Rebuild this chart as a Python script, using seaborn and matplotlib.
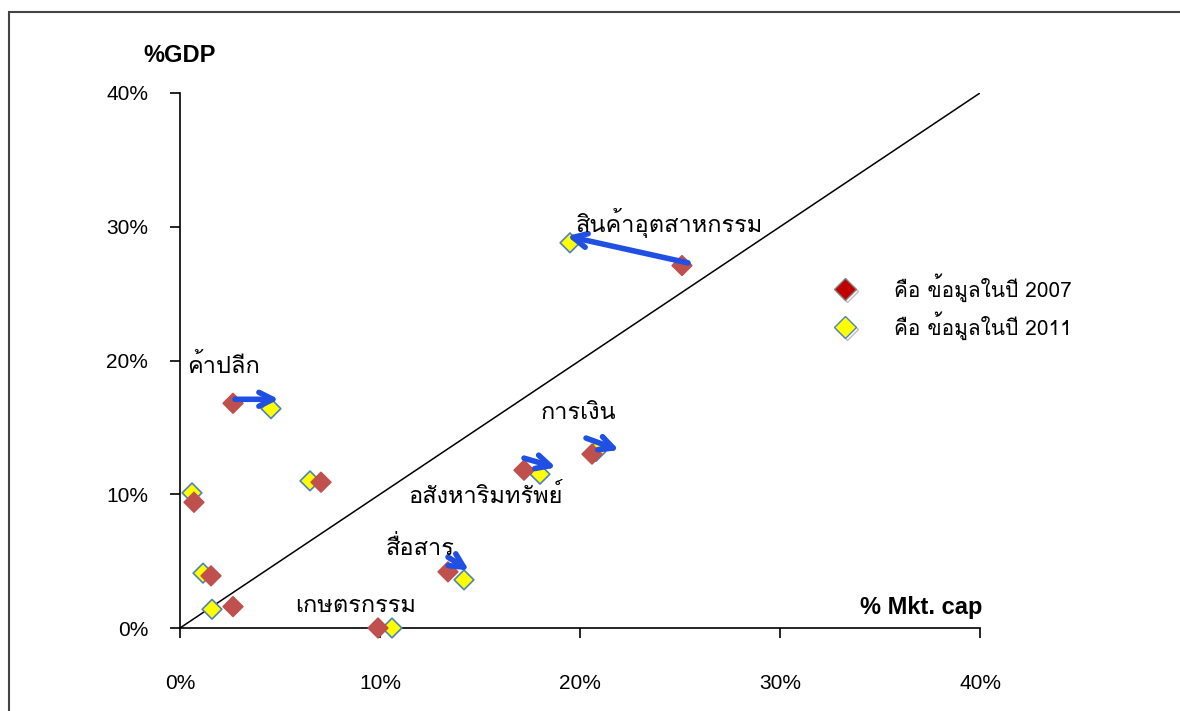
import numpy as np
import pandas as pd
import seaborn as sns
import matplotlib.pyplot as plt
from matplotlib import font_manager
from matplotlib.ft2font import FT2Font
from matplotlib.lines import Line2D
from matplotlib.patches import Rectangle
import matplotlib.patheffects as pe

# --- data ---
mkt_2007 = [2.65, 0.7, 7.05, 1.55, 2.65, 9.9, 13.4, 17.2, 20.6, 25.1]
gdp_2007 = [16.8, 9.4, 10.9, 3.9, 1.6, 0.0, 4.2, 11.8, 13.0, 27.1]
mkt_2011 = [4.55, 0.6, 6.5, 1.15, 1.6, 10.6, 14.2, 18.0, 20.8, 19.5]
gdp_2011 = [16.4, 10.1, 11.0, 4.1, 1.4, 0.0, 3.6, 11.5, 13.2, 28.8]

sector_names = ['สินค้าอุตสาหกรรม', 'ค้าปลีก', 'การเงิน', 'อสังหาริมทรัพย์', 'สื่อสาร', 'เกษตรกรรม']
sector_x = [19.8, 0.35, 18.05, 11.4, 10.3, 5.75]
sector_y = [30.3, 19.6, 16.1, 9.9, 6.0, 1.7]

# arrows: start -> end (data units)
arrow_x0 = [2.75, 13.4, 17.2, 20.3, 25.4]
arrow_y0 = [17.1, 5.3, 12.7, 14.2, 27.3]
arrow_x1 = [4.95, 14.45, 18.8, 21.95, 19.35]
arrow_y1 = [17.1, 4.3, 12.0, 13.3, 29.3]

ticks = [0, 10, 20, 30, 40]
tick_labels = ['0%', '10%', '20%', '30%', '40%']
legend_labels = ['คือ ข้อมูลในปี 2007', 'คือ ข้อมูลในปี 2011']

df = pd.DataFrame({
    'mkt': mkt_2011 + mkt_2007,
    'gdp': gdp_2011 + gdp_2007,
    'year': ['2011'] * len(mkt_2011) + ['2007'] * len(mkt_2007),
})


# find an installed font that can draw Thai
def thai_family():
    for f in font_manager.fontManager.ttflist:
        try:
            if 0x0E01 in FT2Font(f.fname).get_charmap():
                return f.name
        except Exception:
            pass
    return 'DejaVu Sans'


sns.set_style('ticks')
thai = thai_family()
plt.rcParams['font.family'] = ['Liberation Sans', thai, 'DejaVu Sans']
plt.rcParams['text.color'] = 'black'
plt.rcParams['xtick.color'] = 'black'
plt.rcParams['ytick.color'] = 'black'
thai_fam = [thai, 'Liberation Sans', 'DejaVu Sans']

fig = plt.figure(figsize=(11.8, 7.11), dpi=100)
ax = fig.add_axes([180 / 1180, 1 - 628 / 711, 800 / 1180, 535 / 711])

# outer frame
fig.patches.append(Rectangle((9 / 1180, -0.2), 1.2, 1.2 - 12 / 711, transform=fig.transFigure,
                             fill=False, edgecolor='#444444', lw=1.5))

# 45 degree line
ax.plot([0, 40], [0, 40], color='black', lw=1.1, zorder=1)

sns.scatterplot(data=df, x='mkt', y='gdp', hue='year', style='year',
                palette={'2011': '#FFFF00', '2007': '#C0504D'},
                markers={'2011': 'D', '2007': 'D'}, s=100, legend=False,
                ax=ax, zorder=3, clip_on=False)
# edge colours per series
coll = ax.collections[0]
coll.set_edgecolor(['#4F81BD'] * len(mkt_2011) + ['#C0504D'] * len(mkt_2007))
coll.set_linewidth(1.2)

for x0, y0, x1, y1 in zip(arrow_x0, arrow_y0, arrow_x1, arrow_y1):
    ax.annotate('', xy=(x1, y1), xytext=(x0, y0),
                arrowprops=dict(arrowstyle='->', color='#1F4FE3', lw=4,
                                mutation_scale=25, shrinkA=0, shrinkB=0),
                zorder=4)

for name, x, y in zip(sector_names, sector_x, sector_y):
    ax.text(x, y, name, fontsize=17, family=thai_fam, ha='left', va='center', zorder=5)

ax.set_xlim(0, 40)
ax.set_ylim(0, 40)
ax.set_xticks(ticks)
ax.set_xticklabels(tick_labels)
ax.set_yticks(ticks)
ax.set_yticklabels(tick_labels)
ax.tick_params(axis='x', length=7, width=1.2, pad=26, labelsize=15)
ax.tick_params(axis='y', length=7, width=1.2, pad=16, labelsize=15)
for s in ['left', 'bottom']:
    ax.spines[s].set_color('black')
    ax.spines[s].set_linewidth(1.2)
sns.despine(ax=ax)
ax.set_xlabel('')
ax.set_ylabel('')

fig.text(180 / 1180, 1 - 56 / 711, '%GDP', fontsize=17, fontweight='bold', ha='center', va='center')
ax.text(40.1, 1.5, '% Mkt. cap', fontsize=17, fontweight='bold', ha='right', va='center')

# legend with shadowed diamonds
shadow = [pe.SimpleLineShadow(offset=(1.5, -1.5), shadow_color='gray', alpha=0.5), pe.Normal()]
handles = [
    Line2D([], [], ls='', marker='D', markersize=11, markerfacecolor='#C00000',
           markeredgecolor='#808080', markeredgewidth=1.0, path_effects=shadow),
    Line2D([], [], ls='', marker='D', markersize=11, markerfacecolor='#FFFF00',
           markeredgecolor='#4F81BD', markeredgewidth=1.0, path_effects=shadow),
]
fig.legend(handles, legend_labels, loc='upper left', bbox_to_anchor=(824 / 1180, 1 - 273 / 711),
           frameon=False, prop={'family': thai_fam, 'size': 15}, handletextpad=1.35,
           labelspacing=0.45, borderpad=0, borderaxespad=0)

fig.savefig('out.png', dpi=100)
